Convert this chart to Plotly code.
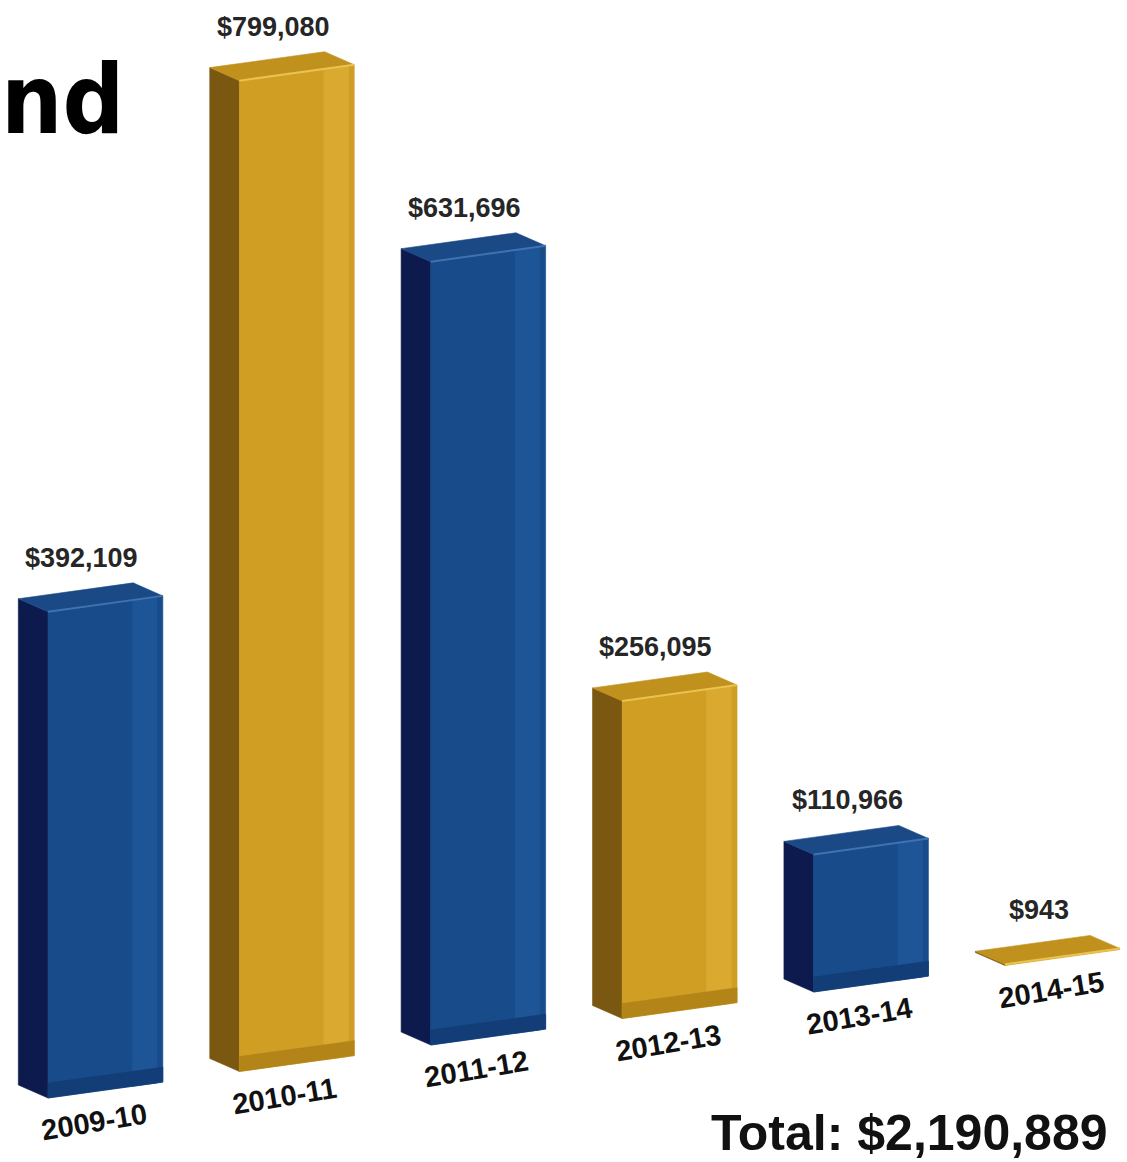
import plotly.graph_objects as go

# ---- data -------------------------------------------------------------
years = ["2009-10", "2010-11", "2011-12", "2012-13", "2013-14", "2014-15"]
amounts = [392109, 799080, 631696, 256095, 110966, 943]
finishes = ["blue", "gold", "blue", "gold", "blue", "gold"]
title_fragment = "nd"

value_labels = [f"${v:,}" for v in amounts]
total_label = f"Total: ${sum(amounts):,}"

# ---- canvas / perspective settings -----------------------------------
W_PX, H_PX = 1127, 1162
SLOT_PX = 191.4          # pixels per category slot
DOLLAR_PX = 0.00124      # pixels per dollar
ORIGIN_X_PX, ORIGIN_Y_PX = 48, 1098

FRONT_W = 0.6            # width of the front face (slots)
TILT = 21371             # floor rise per slot (dollar units)
DEPTH_X = -0.155         # box depth offset (slots)
DEPTH_Y = 10500          # box depth offset (dollar units)
STRIP_L, STRIP_R = 0.16, 0.03
BASE_BAND = 12000

x_range = [-ORIGIN_X_PX / SLOT_PX, (W_PX - ORIGIN_X_PX) / SLOT_PX]
y_range = [-(H_PX - ORIGIN_Y_PX) / DOLLAR_PX, ORIGIN_Y_PX / DOLLAR_PX]

SHADES = {
    "blue": dict(front="#174b8a", side="#0d1a4d", top="#1a4986", edge="#3f72b0",
                 strip="#1d5596", band="#123d76"),
    "gold": dict(front="#cf9e22", side="#7a5812", top="#c0911d", edge="#eac250",
                 strip="#d9aa2f", band="#b38418"),
}


def floor_at(x):
    return TILT * x


fig = go.Figure()


def face(pts, color):
    xs = [p[0] for p in pts] + [pts[0][0]]
    ys = [p[1] for p in pts] + [pts[0][1]]
    fig.add_trace(go.Scatter(
        x=xs, y=ys, mode="lines", fill="toself", fillcolor=color,
        line=dict(width=0.6, color=color), hoverinfo="skip", showlegend=False))


def edge(p, q, color, width):
    fig.add_trace(go.Scatter(
        x=[p[0], q[0]], y=[p[1], q[1]], mode="lines",
        line=dict(width=width, color=color), hoverinfo="skip", showlegend=False))


annotations = []
for i, (yr, v, fin, lab) in enumerate(zip(years, amounts, finishes, value_labels)):
    c = SHADES[fin]
    x0, x1 = i, i + FRONT_W
    fbl = (x0, floor_at(x0))
    fbr = (x1, floor_at(x1))
    ftl = (x0, floor_at(x0) + v)
    ftr = (x1, floor_at(x1) + v)

    def back(p):
        return (p[0] + DEPTH_X, p[1] + DEPTH_Y)

    # left side, top and front faces of the box
    face([fbl, ftl, back(ftl), back(fbl)], c["side"])
    face([ftl, ftr, back(ftr), back(ftl)], c["top"])
    face([fbl, fbr, ftr, ftl], c["front"])

    # bevel shading on the front face
    sx0, sx1 = x1 - STRIP_L, x1 - STRIP_R
    if v > 2 * BASE_BAND:
        face([(sx0, floor_at(sx0)), (sx1, floor_at(sx1)),
              (sx1, floor_at(sx1) + v), (sx0, floor_at(sx0) + v)], c["strip"])
        face([fbl, fbr, (x1, floor_at(x1) + BASE_BAND), (x0, floor_at(x0) + BASE_BAND)],
             c["band"])
    edge(ftl, ftr, c["edge"], 2)

    xc = x0 + FRONT_W / 2
    annotations.append(dict(
        x=xc + 0.8 * DEPTH_X, y=floor_at(xc) + v + DEPTH_Y, xref="x", yref="y",
        text=f"<b>{lab}</b>", showarrow=False, xanchor="center", yanchor="bottom",
        yshift=16,
        font=dict(family="Liberation Sans, Arial, sans-serif", size=27, color="#262626")))
    annotations.append(dict(
        x=xc + 0.4 * DEPTH_X, y=floor_at(xc), xref="x", yref="y",
        text=f"<b>{yr}</b>", showarrow=False, xanchor="center", yanchor="middle",
        yshift=-32, textangle=-9.5,
        font=dict(family="Liberation Sans, Arial, sans-serif", size=29, color="#111111")))

annotations.append(dict(
    x=1110 / W_PX, y=1 - 1133 / H_PX, xref="paper", yref="paper",
    text=f"<b>{total_label}</b>", showarrow=False, xanchor="right", yanchor="middle",
    font=dict(family="Liberation Sans, Arial, sans-serif", size=50, color="#111111")))
annotations.append(dict(
    x=0, y=1 - 100 / H_PX, xref="paper", yref="paper",
    text=f"<b>{title_fragment}</b>", showarrow=False, xanchor="left", yanchor="middle",
    borderpad=0,
    font=dict(family="DejaVu Sans Condensed, DejaVu Sans, sans-serif", size=96,
              color="#000000")))

fig.update_layout(
    width=W_PX, height=H_PX,
    margin=dict(l=0, r=0, t=0, b=0),
    paper_bgcolor="white", plot_bgcolor="white",
    xaxis=dict(range=x_range, visible=False, fixedrange=True),
    yaxis=dict(range=y_range, visible=False, fixedrange=True),
    annotations=annotations,
    showlegend=False,
)

fig.write_html("out.html")
